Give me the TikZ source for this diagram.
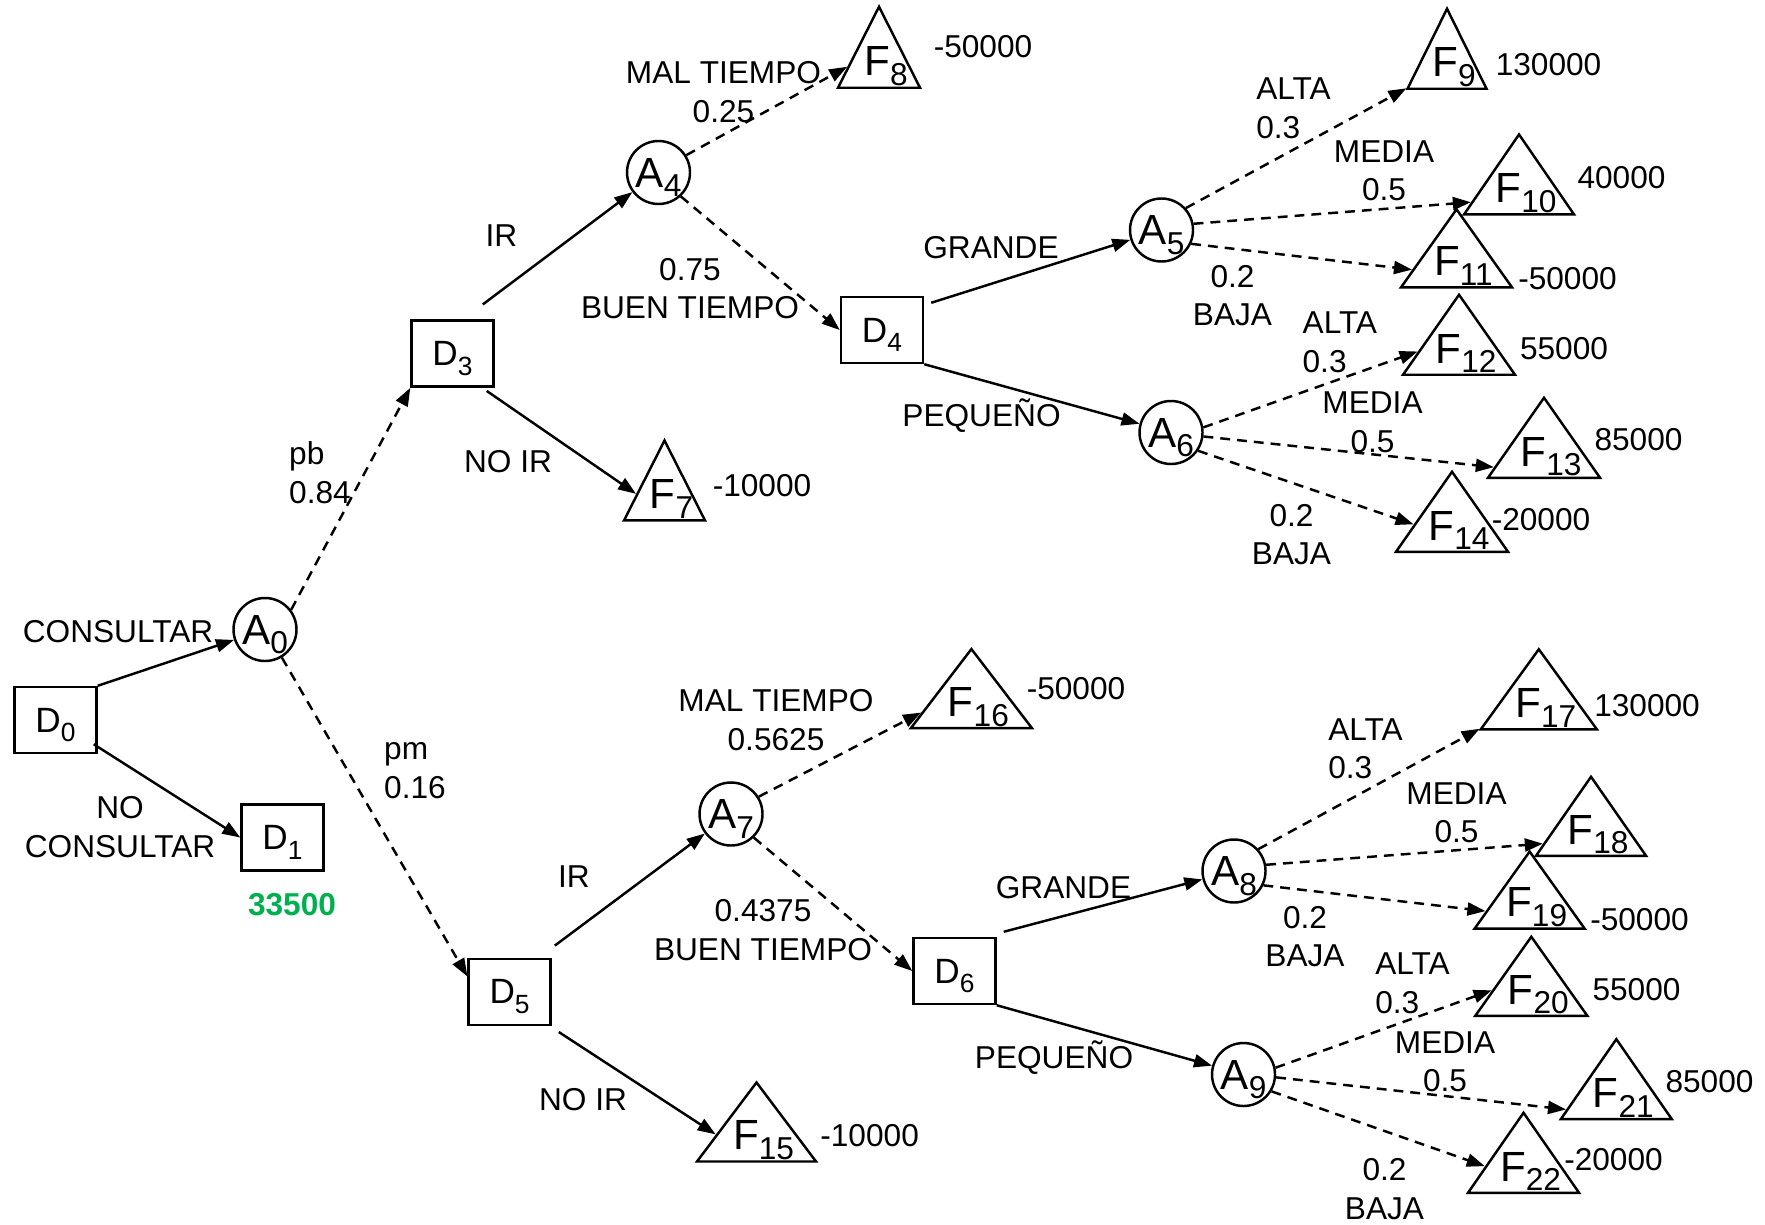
\documentclass[tikz,border=0pt]{standalone}
\usepackage{fontspec}
\setmainfont{Liberation Sans}
\usetikzlibrary{arrows.meta,shapes.geometric,calc}
\definecolor{verde}{RGB}{0,176,80}
\newcommand{\idx}[2][9]{\raisebox{-2.8pt}{\fontsize{#1}{#1}\selectfont #2}}

\begin{document}
\begin{tikzpicture}[
  line width=0.7pt,
  every node/.style={font=\fontsize{9}{11}\selectfont, inner sep=0pt},
  dec/.style={draw, rectangle, minimum width=0.82cm, minimum height=0.66cm, font=\fontsize{10}{10}\selectfont, text depth=0pt},
  azar/.style={draw, circle, minimum size=0.63cm, font=\fontsize{12}{12}\selectfont, text depth=0pt},
  fin/.style={draw, isosceles triangle, isosceles triangle stretches, shape border rotate=90, minimum width=1.1cm, minimum height=0.8cm, anchor=south},
  flab/.style={font=\fontsize{12}{12}\selectfont, anchor=base},
  rama/.style={-{Triangle[length=1.8mm,width=1.3mm]}},
  prob/.style={rama, dash pattern=on 2.8pt off 2pt},
  txt/.style={anchor=base}
]
\useasboundingbox (0,0) rectangle (17.65,-12.24);

% decisiones y azar
\node[dec] (D0) at (0.555,-7.20) {D\idx[7.5]{0}};
\node[dec] (D1) at (2.825,-8.375) {D\idx[7.5]{1}};
\node[azar] (A0) at (2.65,-6.295) {A\idx{0}};
\node[dec] (D3) at (4.525,-3.537) {D\idx[7.5]{3}};
\node[azar] (A4) at (6.585,-1.725) {A\idx{4}};
\node[dec] (D4) at (8.82,-3.30) {D\idx[7.5]{4}};
\node[azar] (A5) at (11.615,-2.30) {A\idx{5}};
\node[azar] (A6) at (11.71,-4.325) {A\idx{6}};
\node[dec] (D5) at (5.096,-9.918) {D\idx[7.5]{5}};
\node[azar] (A7) at (7.31,-8.14) {A\idx{7}};
\node[dec] (D6) at (9.545,-9.71) {D\idx[7.5]{6}};
\node[azar] (A8) at (12.34,-8.71) {A\idx{8}};
\node[azar] (A9) at (12.435,-10.745) {A\idx{9}};

% nodos finales
\node[fin, minimum width=0.81cm] (F7) at (6.645,-5.217) {};
\node[fin, minimum width=0.82cm, minimum height=0.81cm] (F8) at (8.79,-0.89) {};
\node[fin, minimum width=0.79cm] (F9) at (14.47,-0.90) {};
\node[fin] (F10) at (15.19,-2.157) {};
\node[fin, minimum width=1.11cm, minimum height=0.78cm] (F11) at (14.565,-2.886) {};
\node[fin, minimum width=1.12cm] (F12) at (14.59,-3.76) {};
\node[fin, minimum width=1.12cm] (F13) at (15.44,-4.79) {};
\node[fin, minimum width=1.12cm] (F14) at (14.52,-5.53) {};
\node[fin, minimum width=1.19cm, minimum height=0.79cm] (F15) at (7.565,-11.627) {};
\node[fin, minimum width=1.21cm, minimum height=0.79cm] (F16) at (9.714,-7.293) {};
\node[fin, minimum width=1.16cm] (F17) at (15.388,-7.305) {};
\node[fin, minimum height=0.79cm] (F18) at (15.91,-8.57) {};
\node[fin, minimum height=0.77cm] (F19) at (15.296,-9.298) {};
\node[fin, minimum width=1.12cm, minimum height=0.79cm] (F20) at (15.313,-10.17) {};
\node[fin, minimum width=1.11cm] (F21) at (16.163,-11.204) {};
\node[fin, minimum width=1.11cm] (F22) at (15.235,-11.94) {};

\foreach \k in {7,...,22}
  \node[flab] (t\k) at ([xshift=0.07cm,yshift=0.13cm]F\k.south) {F\idx{\k}};

% ramas
\draw[rama] (D0.north east) -- (A0);
\draw[rama] ([xshift=-0.04cm,yshift=0.1cm]D0.south east) -- (D1.west);
\draw[prob] (A0.37) -- (D3.south west);
\draw[prob] (A0.-59) -- (D5.160);
\draw[rama] ([xshift=-0.12cm,yshift=0.15cm]D3.north east) -- (A4);
\draw[rama] ([xshift=-0.08cm,yshift=-0.03cm]D3.south east) -- ($(F7.left corner)!0.33!(F7.apex)$);
\draw[prob] (A4.32) -- ($(F8.left corner)!0.26!(F8.apex)$);
\draw[prob] (A4.-47) -- (D4.west);
\draw[rama] ([xshift=0.07cm,yshift=-0.07cm]D4.north east) -- (A5);
\draw[rama] (D4.south east) -- (A6);
\draw[prob] (A5.42) -- ($(F9.left corner)!0.02!(F9.apex)$);
\draw[prob] (A5.11) -- ($(F10.left corner)!0.16!(F10.apex)$);
\draw[prob] (A5.-25) -- ($(F11.left corner)!0.23!(F11.apex)$);
\draw[prob] (A6.9) -- ($(F12.left corner)!0.29!(F12.apex)$);
\draw[prob] (A6.-7) -- ($(F13.left corner)!0.14!(F13.apex)$);
\draw[prob] (A6.-34) -- ($(F14.left corner)!0.34!(F14.apex)$);
\draw[rama] ([xshift=0.03cm,yshift=0.12cm]D5.north east) -- (A7);
\draw[rama] ([xshift=0.07cm,yshift=-0.06cm]D5.south east) -- ($(F15.left corner)!0.34!(F15.apex)$);
\draw[prob] (A7.32) -- ($(F16.left corner)!0.2!(F16.apex)$);
\draw[prob] (A7.-46) -- (D6.west);
\draw[rama] ([xshift=0.07cm,yshift=0.05cm]D6.north east) -- (A8);
\draw[rama] (D6.south east) -- (A9);
\draw[prob] (A8.42) -- ($(F17.left corner)!0.02!(F17.apex)$);
\draw[prob] (A8.11) -- ($(F18.left corner)!0.16!(F18.apex)$);
\draw[prob] (A8.-26) -- ($(F19.left corner)!0.23!(F19.apex)$);
\draw[prob] (A9.12) -- ($(F20.left corner)!0.32!(F20.apex)$);
\draw[prob] (A9.-5) -- ($(F21.left corner)!0.13!(F21.apex)$);
\draw[prob] (A9.-31) -- ($(F22.left corner)!0.33!(F22.apex)$);

% textos de las ramas
\node[txt] (cons) at (1.18,-6.42) {CONSULTAR};
\node[align=center] (nocons) at (1.20,-8.27) {NO\\CONSULTAR};
\node[txt, text=verde, font=\fontsize{9}{11}\selectfont\bfseries] (v1) at (2.92,-9.15) {33500};
\node[align=left, anchor=west] (pb) at (2.88,-4.728) {pb\\0.84};
\node[align=left, anchor=west] (pm) at (3.83,-7.708) {pm\\0.16};
\node[txt] (ir1) at (5.015,-2.467) {IR};
\node[txt] (noir1) at (5.08,-4.727) {NO IR};
\node[align=center] (mal1) at (7.235,-0.92) {MAL TIEMPO\\0.25};
\node[align=center] (buen1) at (6.90,-2.885) {0.75\\BUEN TIEMPO};
\node[txt] (gr1) at (9.91,-2.58) {GRANDE};
\node[txt] (pq1) at (9.815,-4.267) {PEQUEÑO};
\node[align=left, anchor=west] (al5) at (12.55,-1.082) {ALTA\\0.3};
\node[align=center] (me5) at (13.84,-1.708) {MEDIA\\0.5};
\node[align=center] (ba5) at (12.325,-2.956) {0.2\\BAJA};
\node[align=left, anchor=west] (al6) at (13.014,-3.422) {ALTA\\0.3};
\node[align=center] (me6) at (13.725,-4.22) {MEDIA\\0.5};
\node[align=center] (ba6) at (12.915,-5.345) {0.2\\BAJA};
\node[txt] (ir2) at (5.74,-8.87) {IR};
\node[txt] (noir2) at (5.83,-11.107) {NO IR};
\node[align=center] (mal2) at (7.76,-7.20) {MAL TIEMPO\\0.5625};
\node[align=center] (buen2) at (7.63,-9.30) {0.4375\\BUEN TIEMPO};
\node[txt] (gr2) at (10.635,-8.98) {GRANDE};
\node[txt] (pq2) at (10.54,-10.68) {PEQUEÑO};
\node[align=left, anchor=west] (al8) at (13.27,-7.488) {ALTA\\0.3};
\node[align=center] (me8) at (14.565,-8.127) {MEDIA\\0.5};
\node[align=center] (ba8) at (13.05,-9.365) {0.2\\BAJA};
\node[align=left, anchor=west] (al9) at (13.74,-9.83) {ALTA\\0.3};
\node[align=center] (me9) at (14.45,-10.617) {MEDIA\\0.5};
\node[align=center] (ba9) at (13.845,-11.89) {0.2\\BAJA};

% valores finales
\node[txt] (v7) at (7.62,-4.967) {-10000};
\node[txt] (v8) at (9.83,-0.58) {-50000};
\node[txt] (v9) at (15.485,-0.758) {130000};
\node[txt] (v10) at (16.215,-1.88) {40000};
\node[txt] (v11) at (15.675,-2.89) {-50000};
\node[txt] (v12) at (15.64,-3.59) {55000};
\node[txt] (v13) at (16.385,-4.507) {85000};
\node[txt] (v14) at (15.41,-5.30) {-20000};
\node[txt] (v15) at (8.696,-11.46) {-10000};
\node[txt] (v16) at (10.76,-6.99) {-50000};
\node[txt] (v17) at (16.47,-7.16) {130000};
\node[txt] (v19) at (16.395,-9.305) {-50000};
\node[txt] (v20) at (16.365,-10.005) {55000};
\node[txt] (v21) at (17.095,-10.925) {85000};
\node[txt] (v22) at (16.135,-11.707) {-20000};
\end{tikzpicture}
\end{document}
